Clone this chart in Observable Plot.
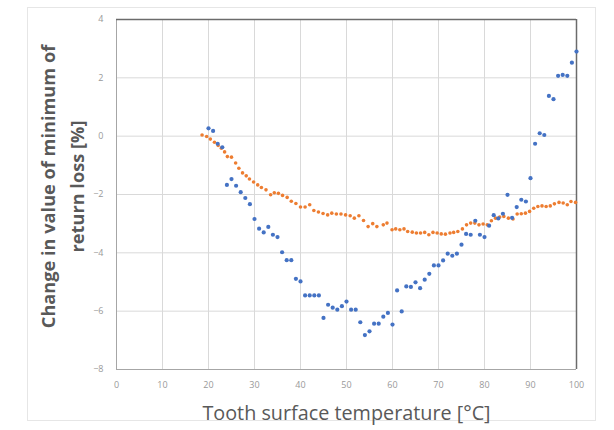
<!DOCTYPE html>
<html>
<head>
<meta charset="utf-8">
<script src="https://cdn.jsdelivr.net/npm/d3@7"></script>
<script src="https://cdn.jsdelivr.net/npm/@observablehq/plot@0.6"></script>
<style>
  html, body { margin: 0; padding: 0; background: #fff; }
  #wrap { position: relative; width: 614px; height: 430px; overflow: hidden; }
  #border { position: absolute; left: 27px; top: 7px; width: 569px; height: 414px; border: 1px solid #e6e6e6; box-sizing: border-box; }
  #chart { position: absolute; left: 0; top: 0; }
</style>
</head>
<body>
<div id="wrap"><div id="border"></div><div id="chart"></div></div>
<script>
// Blue series: temperature (°C) and change (%)
const blueTemps = [20,21,22,23,24,25,26,27,28,29,30,31,32,33,34,35,36,37,38,39,40,41,42,43,44,45,46,47,48,49,50,51,52,53,54,55,56,57,58,59,60,61,62,63,64,65,66,67,68,69,70,71,72,73,74,75,76,77,78,79,80,81,82,83,84,85,86,87,88,89,90,91,92,93,94,95,96,97,98,99,100];
const blueValues = [0.27,0.18,-0.26,-0.38,-1.67,-1.47,-1.70,-1.92,-2.12,-2.33,-2.84,-3.17,-3.30,-3.11,-3.38,-3.46,-3.98,-4.25,-4.25,-4.89,-4.98,-5.46,-5.46,-5.46,-5.46,-6.23,-5.78,-5.88,-5.95,-5.83,-5.67,-5.95,-5.95,-6.38,-6.82,-6.69,-6.43,-6.43,-6.19,-6.06,-6.46,-5.29,-6.01,-5.15,-5.17,-5.01,-5.21,-4.92,-4.72,-4.43,-4.43,-4.26,-4.03,-4.10,-4.03,-3.72,-3.35,-3.38,-2.90,-3.38,-3.46,-3.07,-2.71,-2.82,-2.66,-2.01,-2.80,-2.43,-2.18,-2.24,-1.44,-0.26,0.10,0.04,1.38,1.27,2.07,2.10,2.07,2.52,2.90];

// Orange series: temperature (°C) and change (%)
const orangeTemps = [18.6,19.6,20.4,21.3,22.1,22.8,23.5,24.1,25.0,25.9,26.6,27.4,28.2,28.9,29.8,30.7,31.5,32.5,33.5,34.3,35.2,36.1,37.1,38.0,39.0,40.0,41.0,42.0,42.9,43.9,44.9,45.9,46.8,47.8,48.8,49.8,50.8,51.7,52.7,53.7,54.7,55.7,56.6,58.0,58.8,59.9,60.7,61.6,62.5,63.3,64.3,65.2,66.1,67.0,67.9,68.8,69.7,70.6,71.5,72.5,73.3,74.2,75.2,76.1,77.0,77.9,78.8,79.7,80.6,81.5,82.4,83.3,84.2,85.2,86.2,87.1,88.0,88.9,89.8,90.7,91.6,92.5,93.4,94.3,95.2,96.2,97.1,98.0,98.8,99.8];
const orangeValues = [0.04,-0.01,-0.10,-0.21,-0.32,-0.41,-0.54,-0.70,-0.72,-0.92,-1.10,-1.26,-1.36,-1.47,-1.57,-1.67,-1.76,-1.84,-2.01,-1.94,-1.96,-2.03,-2.10,-2.23,-2.31,-2.43,-2.43,-2.35,-2.55,-2.60,-2.65,-2.70,-2.64,-2.67,-2.67,-2.70,-2.73,-2.81,-2.73,-2.89,-3.10,-3.00,-3.10,-3.04,-2.98,-3.21,-3.18,-3.21,-3.18,-3.27,-3.29,-3.32,-3.32,-3.30,-3.38,-3.30,-3.32,-3.35,-3.36,-3.32,-3.30,-3.27,-3.18,-3.04,-2.98,-2.98,-3.04,-3.01,-3.04,-2.90,-2.81,-2.77,-2.75,-2.81,-2.84,-2.67,-2.66,-2.64,-2.58,-2.47,-2.41,-2.39,-2.41,-2.39,-2.32,-2.27,-2.29,-2.35,-2.24,-2.27];

const xTicks = [0,10,20,30,40,50,60,70,80,90,100];
const yTicks = [-8,-6,-4,-2,0,2,4];
const xTitle = "Tooth surface temperature [°C]";
const yTitle = "Change in value of minimum of\nreturn loss [%]";

const blue = blueTemps.map((t, i) => ({t, v: blueValues[i]}));
const orange = orangeTemps.map((t, i) => ({t, v: orangeValues[i]}));

const chart = Plot.plot({
  width: 614,
  height: 430,
  marginLeft: 116,
  marginRight: 38,
  marginTop: 19,
  marginBottom: 61,
  style: {background: "transparent", fontFamily: "'Open Sans', sans-serif"},
  x: {domain: [0, 100]},
  y: {domain: [-8, 4]},
  marks: [
    Plot.gridX(xTicks, {stroke: "#d9d9d9", strokeOpacity: 1}),
    Plot.gridY(yTicks, {stroke: "#d9d9d9", strokeOpacity: 1}),
    Plot.ruleX([0], {stroke: "#a6a6a6", strokeWidth: 1}),
    Plot.ruleY([-8], {stroke: "#a6a6a6", strokeWidth: 1}),
    Plot.ruleY([4], {stroke: "#6b6b6b", strokeWidth: 1.5}),
    Plot.ruleX([100], {stroke: "#6b6b6b", strokeWidth: 1.5}),
    Plot.axisX({ticks: xTicks, tickSize: 0, tickPadding: 12, fontSize: 9, color: "#999999", label: null}),
    Plot.axisY({ticks: yTicks, tickSize: 0, tickPadding: 13, fontSize: 9, color: "#999999", label: null}),
    Plot.dot(orange, {x: "t", y: "v", r: 1.8, fill: "#ED7D31", stroke: "none"}),
    Plot.dot(blue, {x: "t", y: "v", r: 2.1, fill: "#4472C4", stroke: "none"}),
    Plot.text([xTitle], {frameAnchor: "bottom", lineAnchor: "bottom", dy: 50, fontSize: 19.8, fill: "#595959", text: d => d}),
    Plot.text([yTitle], {frameAnchor: "left", textAnchor: "middle", lineAnchor: "middle", rotate: -90, dx: -56, dy: -8, fontSize: 18.2, fontWeight: "bold", lineHeight: 1.6, fill: "#595959", text: d => d})
  ]
});
document.getElementById("chart").appendChild(chart);
</script>
</body>
</html>
